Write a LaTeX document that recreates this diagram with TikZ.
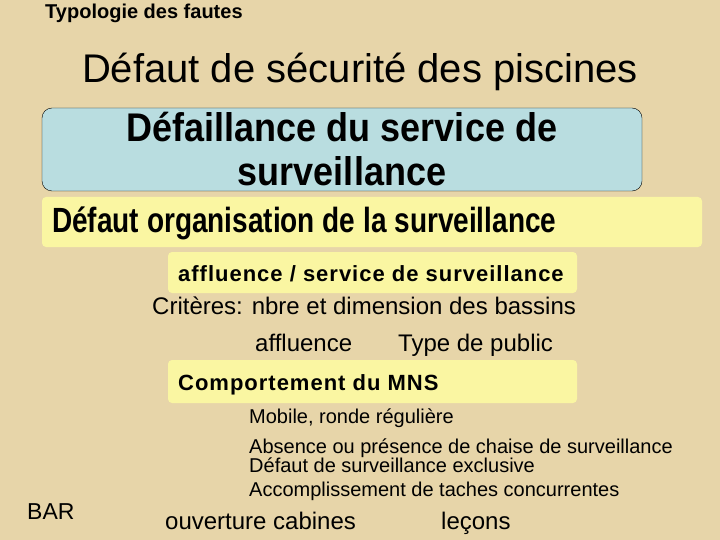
\documentclass[tikz,border=0pt]{standalone}
\usepackage{fontspec}
\setmainfont{Liberation Sans}
\newfontfamily\narrowfont[FakeStretch=0.9]{Liberation Sans}
\newfontfamily\slimfont[FakeStretch=0.8]{Liberation Sans}
\newfontfamily\spacedfont[LetterSpace=4.5]{Liberation Sans}
\usetikzlibrary{positioning}

\definecolor{parch}{HTML}{E7D5A9}
\definecolor{skyfill}{HTML}{B9DDE0}
\definecolor{lemon}{HTML}{FAF6A2}

\tikzset{
  skybox/.style={draw,thin,fill=skyfill,rounded corners=10pt,inner sep=0pt},
  lemonbox/.style={fill=lemon,rounded corners=4pt,inner sep=0pt},
  txt/.style={inner sep=0pt,anchor=base west}
}

\begin{document}
\begin{tikzpicture}[x=1pt,y=-1pt]
\fill[parch] (0,0) rectangle (720,540);
\useasboundingbox (0,0) rectangle (720,540);

\node[txt,font=\fontsize{20}{22}\selectfont\bfseries] (typo) at (45,19) {Typologie des fautes};
\node[inner sep=0pt,anchor=base,font=\fontsize{40}{44}\selectfont] (titre) at (360,83) {Défaut de sécurité des piscines};

\node[skybox,minimum width=600pt,minimum height=83pt] (service) at (342,149.5) {};
\node[inner sep=0pt,anchor=base,font=\narrowfont\fontsize{40}{44}\selectfont\bfseries] (serv1) at (342,142) {Défaillance du service de};
\node[inner sep=0pt,anchor=base,font=\narrowfont\fontsize{40}{44}\selectfont\bfseries] (serv2) at (342,186) {surveillance};

\node[lemonbox,minimum width=660pt,minimum height=50pt] (orga) at (372,222) {};
\node[txt,font=\slimfont\fontsize{35}{38}\selectfont\bfseries] (orgatxt) at (52,233) {Défaut organisation de la surveillance};

\node[lemonbox,minimum width=409pt,minimum height=41pt] (affl) at (372.5,272.5) {};
\node[txt,font=\spacedfont\fontsize{22}{24}\selectfont\bfseries] (affltxt) at (178,281) {affluence / service de surveillance};

\node[txt,font=\fontsize{24}{26}\selectfont] (crit) at (152,314) {Critères: nbre et dimension des bassins};
\node[txt,font=\fontsize{24}{26}\selectfont] (aff) at (255,351) {affluence};
\node[txt,font=\fontsize{24}{26}\selectfont] (public) at (398,351) {Type de public};

\node[lemonbox,minimum width=409pt,minimum height=43pt] (mns) at (372.5,381.5) {};
\node[txt,font=\spacedfont\fontsize{22}{24}\selectfont\bfseries] (mnstxt) at (178,390) {Comportement du MNS};

\node[txt,font=\fontsize{20}{22}\selectfont] (ronde) at (249,423) {Mobile, ronde régulière};
\node[txt,font=\fontsize{20}{22}\selectfont] (chaise) at (249,453) {Absence ou présence de chaise de surveillance};
\node[txt,font=\fontsize{20}{22}\selectfont] (exclu) at (249,472) {Défaut de surveillance exclusive};
\node[txt,font=\fontsize{20}{22}\selectfont] (taches) at (249,496) {Accomplissement de taches concurrentes};

\node[txt,font=\fontsize{23}{25}\selectfont] (bar) at (27,519) {BAR};
\node[txt,font=\fontsize{24}{26}\selectfont] (cabines) at (165,529) {ouverture cabines};
\node[txt,font=\fontsize{24}{26}\selectfont] (lecons) at (441,529) {leçons};

\end{tikzpicture}
\end{document}
